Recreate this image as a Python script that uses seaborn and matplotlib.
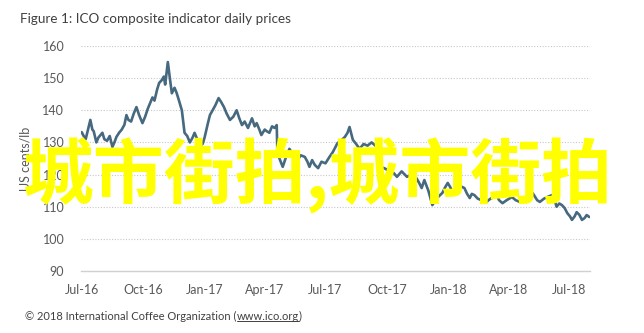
import matplotlib
matplotlib.use("Agg")
import matplotlib.pyplot as plt
import matplotlib.dates as mdates
import seaborn as sns
import pandas as pd

dates = ["2016-07-01", "2016-07-04", "2016-07-07", "2016-07-11", "2016-07-14", "2016-07-17", "2016-07-19",
         "2016-07-23", "2016-07-26", "2016-07-28", "2016-08-01", "2016-08-04", "2016-08-08", "2016-08-12",
         "2016-08-16", "2016-08-19", "2016-08-22", "2016-08-26", "2016-08-30", "2016-09-03", "2016-09-06",
         "2016-09-09", "2016-09-13", "2016-09-17", "2016-09-21", "2016-09-25", "2016-09-30", "2016-10-04",
         "2016-10-08", "2016-10-11", "2016-10-15", "2016-10-18", "2016-10-22", "2016-10-25", "2016-10-29",
         "2016-11-01", "2016-11-03", "2016-11-07", "2016-11-10", "2016-11-13", "2016-11-17", "2016-11-20",
         "2016-11-23", "2016-11-28", "2016-12-02", "2016-12-06", "2016-12-10", "2016-12-14", "2016-12-17",
         "2016-12-21", "2016-12-25", "2016-12-29", "2017-01-01", "2017-01-06", "2017-01-09", "2017-01-13",
         "2017-01-17", "2017-01-22", "2017-01-26", "2017-01-30", "2017-02-03", "2017-02-08", "2017-02-13",
         "2017-02-18", "2017-02-22", "2017-02-26", "2017-03-02", "2017-03-07", "2017-03-10", "2017-03-13",
         "2017-03-17", "2017-03-20", "2017-03-24", "2017-03-27", "2017-04-01", "2017-04-04", "2017-04-08",
         "2017-04-12", "2017-04-16", "2017-04-19", "2017-04-20", "2017-04-24", "2017-04-28", "2017-05-03",
         "2017-05-08", "2017-05-11", "2017-05-14", "2017-05-20", "2017-05-25", "2017-05-31", "2017-06-04",
         "2017-06-07", "2017-06-11", "2017-06-15", "2017-06-20", "2017-06-25", "2017-07-01", "2017-07-07",
         "2017-07-12", "2017-07-19", "2017-07-24", "2017-07-30", "2017-08-03", "2017-08-06", "2017-08-11",
         "2017-08-16", "2017-08-21", "2017-08-27", "2017-09-02", "2017-09-08", "2017-09-16", "2017-09-20",
         "2017-09-27", "2017-10-05", "2017-10-11", "2017-10-16", "2017-10-23", "2017-10-31", "2017-11-06",
         "2017-11-14", "2017-11-18", "2017-11-22", "2017-11-26", "2017-12-02", "2017-12-08", "2017-12-14",
         "2017-12-19", "2017-12-23", "2017-12-27", "2017-12-31", "2018-01-04", "2018-01-07", "2018-01-12",
         "2018-01-18", "2018-01-25", "2018-01-29", "2018-02-02", "2018-02-05", "2018-02-09", "2018-02-14",
         "2018-02-20", "2018-02-27", "2018-03-05", "2018-03-10", "2018-03-14", "2018-03-18", "2018-03-23",
         "2018-03-29", "2018-04-02", "2018-04-06", "2018-04-12", "2018-04-18", "2018-04-24", "2018-04-30",
         "2018-05-07", "2018-05-11", "2018-05-14", "2018-05-18", "2018-05-24", "2018-05-29", "2018-06-05",
         "2018-06-09", "2018-06-12", "2018-06-16", "2018-06-20", "2018-06-24", "2018-06-28", "2018-07-02",
         "2018-07-05", "2018-07-09", "2018-07-12", "2018-07-16", "2018-07-20", "2018-07-24", "2018-07-27",
         "2018-07-31"]
prices = [133.2, 132.0, 131.0, 134.5, 137.0, 134.0, 133.5,
          130.0, 131.5, 132.0, 133.0, 131.0, 130.5, 132.0,
          128.6, 130.0, 131.7, 133.0, 134.0, 135.5, 138.5,
          137.0, 136.5, 139.0, 141.0, 138.5, 136.0, 138.0,
          140.5, 142.0, 144.0, 143.0, 146.5, 148.5, 149.4,
          150.5, 148.0, 155.0, 150.0, 145.3, 147.0, 145.5,
          143.5, 140.0, 133.0, 132.0, 130.0, 131.5, 133.0,
          131.0, 129.0, 129.5, 131.5, 136.0, 138.5, 140.0,
          141.5, 143.8, 142.5, 141.0, 139.0, 137.0, 138.0,
          140.0, 137.5, 135.4, 136.5, 134.5, 136.0, 137.5,
          135.0, 136.0, 134.0, 132.3, 134.0, 133.5, 133.0,
          135.0, 134.5, 135.4, 126.7, 124.5, 122.4, 125.5,
          128.0, 127.0, 126.0, 124.5, 126.0, 125.5, 124.0,
          122.4, 124.5, 123.0, 122.0, 124.0, 123.5, 125.5,
          127.0, 129.8, 130.5, 131.7, 133.0, 134.8, 130.8,
          129.5, 128.0, 129.5, 129.0, 130.0, 128.6, 122.4,
          122.0, 121.0, 120.5, 119.3, 121.0, 119.3, 120.0,
          118.9, 117.5, 115.8, 118.3, 115.0, 110.5, 112.5,
          113.5, 114.3, 116.0, 117.4, 116.0, 114.3, 114.5,
          116.5, 115.8, 114.0, 112.7, 114.0, 113.6, 112.5,
          112.0, 111.5, 112.5, 113.0, 113.6, 112.0, 111.1,
          112.0, 112.5, 113.0, 112.0, 111.5, 112.5, 113.5,
          114.3, 113.0, 112.0, 111.5, 112.5, 113.0, 113.6,
          112.0, 110.0, 111.0, 110.5, 109.6, 108.0, 107.0,
          105.9, 107.0, 108.3, 107.5, 105.9, 106.5, 107.4,
          106.8]
y_ticks = [90, 100, 110, 120, 130, 140, 150, 160]
x_ticks = ["2016-07-01", "2016-10-01", "2017-01-01", "2017-04-01", "2017-07-01",
           "2017-10-01", "2018-01-01", "2018-04-01", "2018-07-01"]

df = pd.DataFrame({"date": pd.to_datetime(dates), "price": prices})

sns.set_theme(style="white")
plt.rcParams["font.family"] = ["Lato", "DejaVu Sans"]

fig = plt.figure(figsize=(6.44, 3.33), dpi=100)
fig.patch.set_facecolor("white")
ax = fig.add_axes([81 / 644, 1 - 271 / 333, (590 - 81) / 644, (271 - 46) / 333])

sns.lineplot(data=df, x="date", y="price", ax=ax, color="#46697f", linewidth=1.9)

ax.set_ylim(90, 160)
ax.set_yticks(y_ticks)
ax.set_xlim(pd.Timestamp("2016-06-30"), pd.Timestamp("2018-08-01"))
ax.set_xticks(pd.to_datetime(x_ticks))
ax.xaxis.set_major_formatter(mdates.DateFormatter("%b-%y"))
ax.set_xlabel("")
ax.set_ylabel("US cents/lb", fontsize=9, color="#595959", labelpad=8)

for yv in y_ticks[1:]:
    ax.axhline(yv, color="#c8c8c8", linewidth=0.8, linestyle=(0, (1, 1.5)), zorder=0)

for s in ["top", "right", "left"]:
    ax.spines[s].set_visible(False)
ax.spines["bottom"].set_color("#d0d0d0")
ax.spines["bottom"].set_linewidth(1.0)
ax.tick_params(axis="both", length=0, labelsize=9, labelcolor="#595959")
ax.tick_params(axis="y", pad=12)
ax.tick_params(axis="x", pad=9)
ax.grid(False)

fig.text(20 / 644, 1 - 19 / 333, "Figure 1: ICO composite indicator daily prices",
         fontsize=9.7, color="#404040", ha="left", va="center")

pre = "\u00a9 2018 International Coffee Organization ("
link = "www.ico.org"
foot_y = 1 - 316 / 333
t1 = fig.text(25 / 644, foot_y, pre, fontsize=8, color="#404040", ha="left", va="center")
fig.canvas.draw()
r = fig.canvas.get_renderer()
bb = t1.get_window_extent(r)
x2 = bb.x1 / fig.bbox.width
t2 = fig.text(x2, foot_y, link, fontsize=8, color="#404040", ha="left", va="center")
fig.canvas.draw()
bb2 = t2.get_window_extent(r)
x3 = bb2.x1 / fig.bbox.width
fig.text(x3, foot_y, ")", fontsize=8, color="#404040", ha="left", va="center")
uy = (bb2.y0 + 1) / fig.bbox.height
fig.add_artist(plt.Line2D([x2, x3], [uy, uy], color="#404040", linewidth=0.7,
                          transform=fig.transFigure))

fig.text(317 / 644, 1 - 176 / 333, "城市街拍,城市街拍", fontsize=51, fontweight="heavy",
         color="#ffff00", ha="center", va="center",
         family=["Noto Sans CJK SC", "DejaVu Sans"])

fig.savefig("out.png", dpi=100, facecolor="white")
